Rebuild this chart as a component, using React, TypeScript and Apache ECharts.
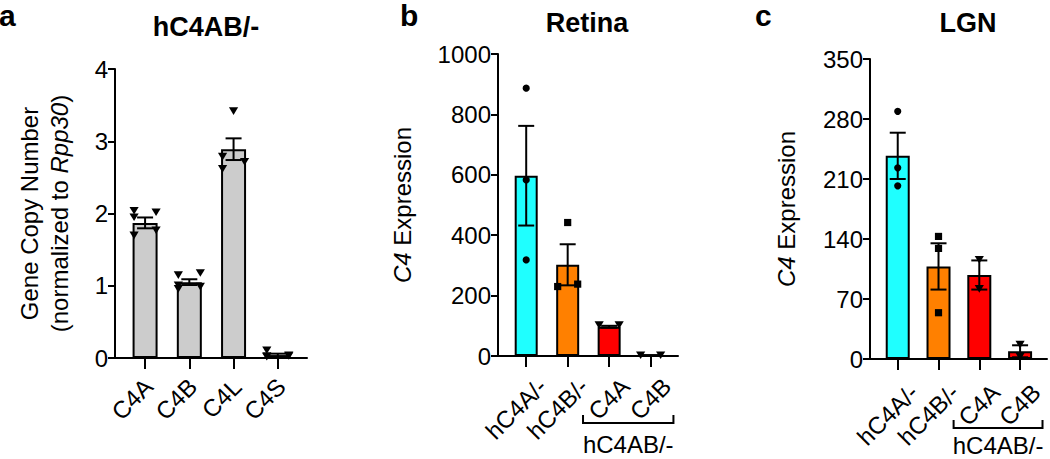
import React, { useEffect, useRef } from "react";
import * as echarts from "echarts";

const FONT = "'Liberation Sans', Arial, Helvetica, sans-serif";
const BLACK = "#000000";

// ---------- Panel a : hC4AB/- gene copy number ----------
const catsA = ["C4A", "C4B", "C4L", "C4S"];
const meanA = [1.87, 1.05, 2.89, 0.04];
const semA = [0.075, 0.04, 0.15, 0.02];
const ptsA = [
  [2.04, 2.02, 1.95, 1.77, 1.7],
  [1.18, 1.15, 1.01, 0.99, 0.96],
  [3.42, 2.79, 2.72, 2.62],
  [0.11, 0.04, 0.03, 0.03, 0.02],
];
const yTicksA = [0, 1, 2, 3, 4];

// ---------- Panels b / c : C4 expression ----------
const catsBC = ["hC4A/-", "hC4B/-", "C4A", "C4B"];
const meanB = [597, 302, 97, 2];
const semB = [165, 68, 3, 1];
const ptsB = [
  [887, 583, 318],
  [442, 238, 230],
  [103, 103],
  [3, 3],
];
const yTicksB = [0, 200, 400, 600, 800, 1000];

const meanC = [237, 108, 98, 9];
const semC = [27, 27, 17, 7];
const ptsC = [
  [289, 223, 202],
  [143, 129, 54],
  [116, 82],
  [17, 3],
];
const yTicksC = [0, 70, 140, 210, 280, 350];

const groupLabel = "hC4AB/-";
const groupMembers = [2, 3];
const titles = ["hC4AB/-", "Retina", "LGN"];
const letters = ["a", "b", "c"];

const colorsA = ["#cccccc", "#cccccc", "#cccccc", "#cccccc"];
const colorsBC = ["#1fffff", "#ff8000", "#ff0000", "#ff0000"];
const symbolsA = ["tri", "tri", "tri", "tri"];
const symbolsBC = ["circle", "square", "tri", "tri"];

// ---------- layout (styling only) ----------
const layouts = [
  { left: 115, top: 69, width: 192, height: 289, barWidth: 25, half: 11, lblMargin: 21, lblPad: 3, nameGap: 41, titleX: 206, titleY: 26.7, letterX: -1, letterY: 15, bracketDrop: 0, textDrop: 0 },
  { left: 498, top: 54, width: 180, height: 302, barWidth: 23, half: 10, lblMargin: 10, lblPad: 21, nameGap: 81, titleX: 587, titleY: 23.3, letterX: 400, letterY: 15, bracketDrop: 67, textDrop: 88 },
  { left: 870, top: 59, width: 177, height: 300, barWidth: 24, half: 10, lblMargin: 13, lblPad: 21, nameGap: 69, titleX: 968, titleY: 23.3, letterX: 755, letterY: 15, bracketDrop: 69, textDrop: 86.5 },
];

function swarmOffsets(pys: number[], h: number, gap = 9): number[] {
  const idx = pys.map((_, i) => i).sort((a, b) => pys[b] - pys[a]);
  const off = new Array(pys.length).fill(0);
  let k = 0;
  while (k < idx.length) {
    let j = k;
    while (j + 1 < idx.length && Math.abs(pys[idx[j]] - pys[idx[j + 1]]) < gap) j++;
    if (j > k) for (let t = k; t <= j; t++) off[idx[t]] = (t - k) % 2 === 0 ? -h : h;
    k = j + 1;
  }
  return off;
}

function symbolShape(kind: string, x: number, y: number) {
  const style = { fill: BLACK };
  if (kind === "circle") return { type: "circle", shape: { cx: x, cy: y, r: 3.6 }, style };
  if (kind === "square") return { type: "rect", shape: { x: x - 3.6, y: y - 3.6, width: 7.2, height: 7.2 }, style };
  return { type: "polygon", shape: { points: [[x - 4.6, y - 3.6], [x + 4.6, y - 3.6], [x, y + 4]] }, style };
}

type PanelDef = {
  cats: string[]; means: number[]; sems: number[]; pts: number[][];
  yTicks: number[]; colors: string[]; symbols: string[]; name: string; grouped: boolean;
};

const panels: PanelDef[] = [
  { cats: catsA, means: meanA, sems: semA, pts: ptsA, yTicks: yTicksA, colors: colorsA, symbols: symbolsA,
    name: "{n|Gene Copy Number}\n{n|(normalized to }{i|Rpp30}{n|)}", grouped: false },
  { cats: catsBC, means: meanB, sems: semB, pts: ptsB, yTicks: yTicksB, colors: colorsBC, symbols: symbolsBC,
    name: "{i|C4}{n| Expression}", grouped: true },
  { cats: catsBC, means: meanC, sems: semC, pts: ptsC, yTicks: yTicksC, colors: colorsBC, symbols: symbolsBC,
    name: "{i|C4}{n| Expression}", grouped: true },
];

function buildOption() {
  const grid: any[] = [];
  const xAxis: any[] = [];
  const labelAxes: any[] = [];
  const yAxis: any[] = [];
  const series: any[] = [];
  const graphic: any[] = [];
  const lineStyle = { color: BLACK, width: 2 };

  panels.forEach((p, i) => {
    const L = layouts[i];
    const catIdx = p.cats.map((_, k) => k);
    const evenIdx = catIdx.filter((k) => k % 2 === 0);
    const oddIdx = catIdx.filter((k) => k % 2 === 1);
    grid.push({ left: L.left, top: L.top, width: L.width, height: L.height, containLabel: false, outerBoundsMode: "none" });
    const labelStyle = (vals: number[]) => ({
      customValues: vals,
      showMinLabel: true, showMaxLabel: true, hideOverlap: false,
      formatter: (v: number) => p.cats[Math.round(v)],
      rotate: 45, align: "right", verticalAlign: "top", padding: [L.lblPad, 0, 0, 0],
      margin: L.lblMargin, fontSize: 24, lineHeight: 4, fontFamily: FONT, color: BLACK,
    });
    xAxis.push({
      gridIndex: i, type: "value", min: -0.68, max: 3.66, position: "bottom",
      splitLine: { show: false },
      axisLine: { show: true, onZero: false, lineStyle },
      axisTick: { show: true, customValues: catIdx, length: 11, lineStyle },
      axisLabel: labelStyle(evenIdx),
    });
    labelAxes.push({
      gridIndex: i, type: "value", min: -0.68, max: 3.66, position: "bottom", offset: 0,
      splitLine: { show: false },
      axisLine: { show: false, onZero: false },
      axisTick: { show: false },
      axisLabel: labelStyle(oddIdx),
    });
    const yt = p.yTicks;
    yAxis.push({
      gridIndex: i, type: "value", min: yt[0], max: yt[yt.length - 1], interval: yt[1] - yt[0],
      splitLine: { show: false },
      axisLine: { show: true, onZero: false, lineStyle },
      axisTick: { show: true, length: 7, lineStyle },
      axisLabel: { fontSize: 24, fontFamily: FONT, color: BLACK, margin: 7, showMinLabel: true, showMaxLabel: true, formatter: (v: number) => String(v) },
      name: p.name, nameLocation: "middle", nameGap: L.nameGap, nameRotate: 90,
      nameTextStyle: {
        fontSize: 24, fontFamily: FONT, color: BLACK,
        rich: {
          n: { fontSize: 24, fontFamily: FONT, color: BLACK, lineHeight: 30 },
          i: { fontSize: 24, fontFamily: FONT, color: BLACK, fontStyle: "italic", lineHeight: 30 },
        },
      },
    });

    series.push({
      type: "bar", xAxisIndex: i, yAxisIndex: i, barWidth: L.barWidth, z: 2,
      data: p.means.map((m, k) => ({ value: [k, m], itemStyle: { color: p.colors[k], borderColor: BLACK, borderWidth: 2 } })),
    });

    const flat = p.pts.flatMap((arr, c) => arr.map((v) => [c, v]));
    series.push({
      type: "custom", xAxisIndex: i, yAxisIndex: i, encode: { x: 0, y: 1 }, z: 5,
      data: flat,
      renderItem: (params: any, api: any) => {
        const c = api.value(0);
        const v = api.value(1);
        const same = flat.map((d, j) => ({ d, j })).filter((o) => o.d[0] === c);
        const pys = same.map((o) => api.coord([o.d[0], o.d[1]])[1]);
        const offs = swarmOffsets(pys, L.half);
        const k = same.findIndex((o) => o.j === params.dataIndex);
        const pt = api.coord([c, v]);
        return symbolShape(p.symbols[c], pt[0] + offs[k], pt[1]);
      },
    });

    series.push({
      type: "custom", xAxisIndex: i, yAxisIndex: i, encode: { x: 0, y: 1 }, z: 6,
      data: p.means.map((m, k) => [k, m, p.sems[k]]),
      renderItem: (_params: any, api: any) => {
        const c = api.value(0);
        const m = api.value(1);
        const s = api.value(2);
        const top = api.coord([c, m + s]);
        const bot = api.coord([c, Math.max(m - s, 0)]);
        const hw = 8;
        const st = { stroke: BLACK, lineWidth: 2 };
        return {
          type: "group",
          children: [
            { type: "line", shape: { x1: top[0], y1: top[1], x2: bot[0], y2: bot[1] }, style: st },
            { type: "line", shape: { x1: top[0] - hw, y1: top[1], x2: top[0] + hw, y2: top[1] }, style: st },
            { type: "line", shape: { x1: bot[0] - hw, y1: bot[1], x2: bot[0] + hw, y2: bot[1] }, style: st },
          ],
        };
      },
    });

    if (p.grouped) {
      series.push({
        type: "custom", xAxisIndex: i, yAxisIndex: i, encode: { x: [0, 1], y: 2 }, clip: false, z: 6,
        data: [[groupMembers[0], groupMembers[1], 0]],
        renderItem: (_params: any, api: any) => {
          const l = api.coord([api.value(0) - 0.63, 0]);
          const r = api.coord([api.value(1) + 0.55, 0]);
          const y = l[1] + L.bracketDrop;
          const ty = l[1] + L.textDrop;
          return {
            type: "group",
            children: [
              { type: "polyline", shape: { points: [[l[0], y - 8], [l[0], y], [r[0], y], [r[0], y - 8]] }, style: { stroke: BLACK, lineWidth: 2, fill: "none" } },
              { type: "text", style: { text: groupLabel, x: (l[0] + r[0]) / 2, y: ty, align: "center", verticalAlign: "middle", textAlign: "center", textVerticalAlign: "middle", fontSize: 24, fontFamily: FONT, fill: BLACK } },
            ],
          };
        },
      });
    }

    graphic.push({
      type: "text", x: L.titleX, y: L.titleY,
      style: { text: titles[i], align: "center", verticalAlign: "middle", textAlign: "center", textVerticalAlign: "middle", fontSize: 27, fontWeight: "bold", fontFamily: FONT, fill: BLACK },
    });
    graphic.push({
      type: "text", x: L.letterX, y: L.letterY,
      style: { text: letters[i], align: "left", verticalAlign: "middle", textAlign: "left", textVerticalAlign: "middle", fontSize: 30, fontWeight: "bold", fontFamily: FONT, fill: BLACK },
    });
  });

  return { animation: false, backgroundColor: "#ffffff", grid, xAxis: [...xAxis, ...labelAxes], yAxis, series, graphic };
}

export default function App() {
  const ref = useRef<HTMLDivElement>(null);
  useEffect(() => {
    document.body.style.margin = "0";
    if (!ref.current) return;
    const chart = echarts.init(ref.current, null, { renderer: "svg" });
    chart.setOption(buildOption() as any);
    return () => chart.dispose();
  }, []);
  return <div ref={ref} style={{ width: 1050, height: 459 }} />;
}
